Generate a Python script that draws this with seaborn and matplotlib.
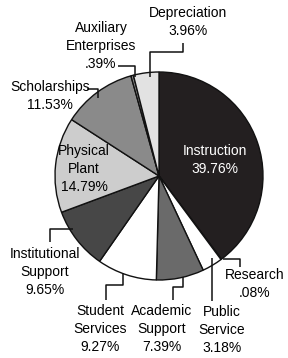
import matplotlib
matplotlib.use("Agg")
import matplotlib.pyplot as plt
import seaborn as sns

# data
categories = ["Instruction", "Research", "Public\nService", "Academic\nSupport",
              "Student\nServices", "Institutional\nSupport", "Physical\nPlant",
              "Scholarships", "Auxiliary\nEnterprises", "Depreciation"]
shares = [39.76, 0.08, 3.18, 7.39, 9.27, 9.65, 14.79, 11.53, 0.39, 3.96]
pct_labels = ["39.76%", ".08%", "3.18%", "7.39%", "9.27%", "9.65%",
              "14.79%", "11.53%", ".39%", "3.96%"]
colors = ["#231f20", "#ffffff", "#ffffff", "#6a6a6a", "#ffffff",
          "#474747", "#cdcdcd", "#8a8a8a", "#8a8a8a", "#e2e2e2"]

sns.set_style("white")
plt.rcParams["font.family"] = ["Liberation Sans Narrow", "Liberation Sans", "DejaVu Sans"]

W, H = 288, 358
fig = plt.figure(figsize=(W / 100, H / 100), dpi=100)
ax = fig.add_axes([0, 0, 1, 1])

cx, cy, r = 159, 176, 104
# y axis is inverted below, so counterclock=True draws clockwise on screen
wedges, _ = ax.pie(shares, colors=colors, startangle=-90, counterclock=True,
                   center=(cx, cy), radius=r, frame=True,
                   wedgeprops=dict(edgecolor="#111111", linewidth=1.0))
ax.set_xlim(0, W)
ax.set_ylim(H, 0)
ax.set_aspect("equal")
ax.axis("off")

fs = 10
# label text positions (top of block) and connector paths, in pixels
layout = {
    0: ((215, 144), None, "white"),
    1: ((255, 268), [(223, 259), (240, 259), (240, 267)], "black"),
    2: ((222, 305), [(212, 258), (212, 301)], "black"),
    3: ((162, 304), [(183, 277), (183, 287), (173, 287), (173, 300)], "black"),
    4: ((100, 304), [(123, 273), (123, 285), (106, 285), (106, 300)], "black"),
    5: ((45, 247), [(73, 229), (50, 229), (50, 242)], "black"),
    6: ((84, 144), None, "black"),
    7: ((50, 80), [(87, 89), (98, 89), (98, 98)], "black"),
    8: ((101, 21), [(118, 66), (135, 66), (135, 77)], "black"),
    9: ((188, 6), [(150, 77), (150, 52), (183, 52), (183, 43)], "black"),
}

for i, (cat, pct) in enumerate(zip(categories, pct_labels)):
    (tx, ty), path, col = layout[i]
    ax.text(tx, ty, cat + "\n" + pct, ha="center", va="top", fontsize=fs,
            color=col, linespacing=1.38)
    if path:
        xs, ys = zip(*path)
        ax.plot(xs, ys, color="#111111", linewidth=1.1, solid_capstyle="butt")

fig.savefig("out.png", dpi=100)
